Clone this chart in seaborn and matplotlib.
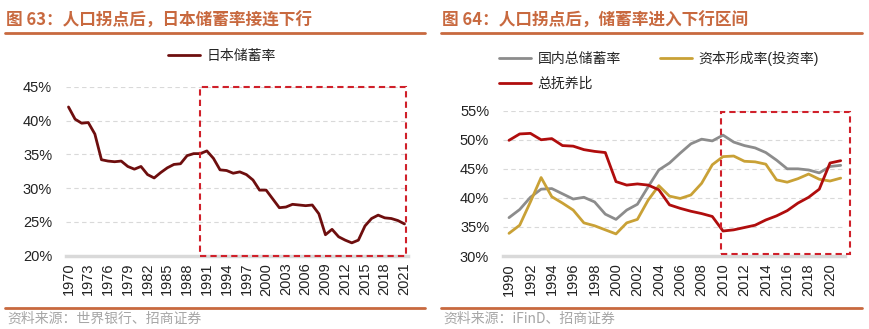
import numpy as np
import pandas as pd
import seaborn as sns
import matplotlib
matplotlib.use('Agg')
import matplotlib.pyplot as plt
from matplotlib.patches import Rectangle
from matplotlib.lines import Line2D
from matplotlib.ticker import FuncFormatter

# ---------------- data ----------------
jp_years = list(range(1970, 2022))
jp_saving = [42.0, 40.2, 39.6, 39.7, 38.0, 34.2, 34.0, 33.9, 34.0, 33.2,
             32.8, 33.2, 32.0, 31.5, 32.3, 33.0, 33.5, 33.6, 34.8, 35.1,
             35.1, 35.5, 34.4, 32.7, 32.6, 32.2, 32.4, 32.0, 31.2, 29.7,
             29.7, 28.4, 27.1, 27.2, 27.6, 27.5, 27.4, 27.5, 26.2, 23.1,
             23.9, 22.8, 22.3, 21.9, 22.3, 24.4, 25.5, 26.0, 25.6, 25.5,
             25.2, 24.7]
jp_xticks = list(range(1970, 2022, 3))
jp_yticks = [20, 25, 30, 35, 40, 45]

cn_years = list(range(1990, 2022))
cn_saving = [36.6, 38.0, 40.1, 41.5, 41.6, 40.7, 39.8, 40.1, 39.3, 37.2,
             36.3, 37.9, 38.9, 41.9, 44.8, 46.0, 47.7, 49.3, 50.1, 49.8,
             50.8, 49.6, 49.0, 48.6, 47.8, 46.5, 45.0, 45.0, 44.8, 44.3,
             45.4, 45.6]
cn_invest = [33.9, 35.3, 39.3, 43.5, 40.2, 39.1, 37.9, 35.7, 35.2, 34.5,
             33.8, 35.7, 36.3, 39.6, 42.1, 40.3, 39.9, 40.5, 42.5, 45.7,
             47.1, 47.2, 46.3, 46.2, 45.8, 43.1, 42.7, 43.3, 44.1, 43.2,
             42.9, 43.4]
cn_dependency = [49.9, 51.0, 51.1, 50.0, 50.2, 49.0, 48.9, 48.3, 48.0, 47.8,
                 42.8, 42.2, 42.4, 42.2, 41.4, 38.8, 38.2, 37.7, 37.3, 36.8,
                 34.3, 34.5, 34.9, 35.3, 36.2, 36.9, 37.8, 39.1, 40.1, 41.5,
                 46.0, 46.4]
cn_xticks = list(range(1990, 2021, 2))
cn_yticks = [30, 35, 40, 45, 50, 55]

left_title = "图 63：人口拐点后，日本储蓄率接连下行"
right_title = "图 64：人口拐点后，储蓄率进入下行区间"
left_source = "资料来源：世界银行、招商证券"
right_source = "资料来源：iFinD、招商证券"
jp_label = "日本储蓄率"
cn_labels = ["国内总储蓄率", "资本形成率(投资率)", "总抚养比"]

# ---------------- style ----------------
sns.set_theme(style="white")
plt.rcParams['font.family'] = ['Liberation Sans', 'Noto Sans CJK SC', 'DejaVu Sans']
plt.rcParams['axes.unicode_minus'] = False

ORANGE = '#C8693F'
GRID = '#D9D9D9'
BOXRED = '#D0202A'
W, H = 870, 329

fig = plt.figure(figsize=(8.7, 3.29), dpi=100)


def fx(px):
    return px / W


def fy(py):
    return 1 - py / H


def style_axes(ax, yticks):
    for s in ['left', 'right', 'top']:
        ax.spines[s].set_visible(False)
    ax.spines['bottom'].set_color(GRID)
    ax.spines['bottom'].set_linewidth(2.5)
    ax.set_yticks(yticks)
    ax.yaxis.set_major_formatter(FuncFormatter(lambda v, p: f"{int(v)}%"))
    ax.grid(axis='y', color=GRID, linestyle=(0, (4, 3)), linewidth=0.8)
    ax.grid(axis='x', visible=False)
    ax.tick_params(axis='y', length=0, pad=10, labelsize=10.5, colors='#222222')
    ax.tick_params(axis='x', length=0, pad=5, labelsize=10.5, rotation=90, colors='#222222')
    ax.set_xlabel('')
    ax.set_ylabel('')


# ---------------- left chart ----------------
axL = fig.add_axes([fx(66), fy(255.7), fx(408) - fx(66), fy(86.7) - fy(255.7)])
jp_df = pd.DataFrame({'year': jp_years, 'rate': jp_saving})
sns.lineplot(data=jp_df, x='year', y='rate', ax=axL, color='#6E0E0E',
             linewidth=2.0, label=jp_label, clip_on=False)
axL.set_xlim(1970 - 2.5 / 6.59, 2021 + 3.5 / 6.59)
axL.set_ylim(20, 45)
axL.set_xticks(jp_xticks)
axL.set_xticklabels([str(t) for t in jp_xticks])
style_axes(axL, jp_yticks)
axL.add_patch(Rectangle((1989.95, 20), 2021.2 - 1989.95, 25, fill=False,
                        edgecolor=BOXRED, linewidth=1.5, linestyle=(0, (3, 2)),
                        clip_on=False, zorder=5))
legL = axL.legend(loc='center', bbox_to_anchor=(fx(222), fy(56)),
                  bbox_transform=fig.transFigure, frameon=False, fontsize=10,
                  handlelength=2.3, handletextpad=0.45)

# ---------------- right chart ----------------
axR = fig.add_axes([fx(503), fy(256), fx(845) - fx(503), fy(110.7) - fy(256)])
cn_df = pd.DataFrame({'year': cn_years, 's': cn_saving, 'i': cn_invest, 'd': cn_dependency})
sns.lineplot(data=cn_df, x='year', y='s', ax=axR, color='#8C8C8C', linewidth=2.0,
             label=cn_labels[0], clip_on=False)
sns.lineplot(data=cn_df, x='year', y='i', ax=axR, color='#C9A136', linewidth=2.0,
             label=cn_labels[1], clip_on=False)
sns.lineplot(data=cn_df, x='year', y='d', ax=axR, color='#B00D0D', linewidth=2.0,
             label=cn_labels[2], clip_on=False)
axR.set_xlim(1990 - 6 / 10.7, 1990 + 336 / 10.7)
axR.set_ylim(30, 55)
axR.set_xticks(cn_xticks)
axR.set_xticklabels([str(t) for t in cn_xticks])
style_axes(axR, cn_yticks)
axR.add_patch(Rectangle((2009.8, 30.4), 2021.9 - 2009.8, 54.8 - 30.4, fill=False,
                        edgecolor=BOXRED, linewidth=1.5, linestyle=(0, (3, 2)),
                        clip_on=False, zorder=5))
h, l = axR.get_legend_handles_labels()
order = [0, 2, 1]
legR = axR.legend([h[k] for k in order], [l[k] for k in order], ncol=2,
                  loc='upper left', bbox_to_anchor=(fx(487), fy(38.5)),
                  bbox_transform=fig.transFigure, frameon=False, fontsize=10,
                  handlelength=2.3, handletextpad=0.45, columnspacing=2.8,
                  labelspacing=0.75)

# ---------------- titles / decorations ----------------
for x0, x1, title, src in [(5, 425, left_title, left_source),
                           (441, 862, right_title, right_source)]:
    fig.text(fx(x0 + 1), fy(21), title, fontsize=12, fontweight='bold',
             color=ORANGE, va='center', ha='left',
             family=['Noto Sans CJK SC', 'DejaVu Sans'])
    fig.add_artist(Line2D([fx(x0), fx(x1)], [fy(32.5), fy(32.5)], color=ORANGE, linewidth=2))
    fig.add_artist(Line2D([fx(x0), fx(x1)], [fy(307.7), fy(307.7)], color=ORANGE, linewidth=2))
    fig.text(fx(x0 + 2), fy(318.5), src, fontsize=10, color='#A6A6A6',
             va='center', ha='left', family=['Noto Sans CJK SC', 'DejaVu Sans'])

fig.savefig('out.png', dpi=100)
